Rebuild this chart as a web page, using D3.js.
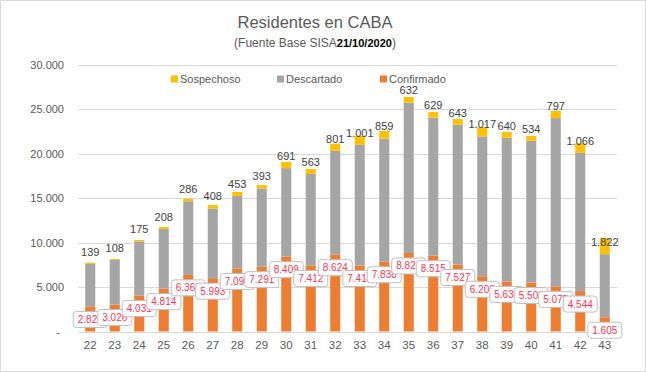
<!DOCTYPE html>
<html><head><meta charset="utf-8">
<script src="https://cdn.jsdelivr.net/npm/d3@7"></script>
<style>
html,body{margin:0;padding:0;background:#fff;}
svg{display:block;font-family:"Liberation Sans",Arial,sans-serif;}
</style></head>
<body><svg id="c" width="646" height="372"></svg>
<script>
const weeks = [22,23,24,25,26,27,28,29,30,31,32,33,34,35,36,37,38,39,40,41,42,43];
const confirmado = [2821,3026,4031,4814,6363,5993,7090,7291,8409,7412,8624,7414,7838,8821,8515,7527,6203,5636,5503,5075,4544,1605];
const descartado = [4770,5012,6075,6720,8272,7813,8131,8777,9945,10284,11676,13551,13831,16896,15519,15707,15724,16140,15929,18903,15536,7079];
const sospechoso = [139,108,175,208,286,408,453,393,691,563,801,1001,859,632,629,643,1017,640,534,797,1066,1822];
const seriesNames = ["Confirmado","Descartado","Sospechoso"];
const legendOrder = ["Sospechoso","Descartado","Confirmado"];
const yTicks = [0,5000,10000,15000,20000,25000,30000];
const titleText = "Residentes en CABA";
const subtitleText = "(Fuente Base SISA";
const subtitleDate = "21/10/2020";

const colors = {Confirmado:"#ED7D31", Descartado:"#A5A5A5", Sospechoso:"#FFC000"};
const loc = d3.formatLocale({decimal:",", thousands:".", grouping:[3], currency:["$",""]});
const fmt = loc.format(",.0f");

const svg = d3.select("#c");
svg.append("rect").attr("x",0.5).attr("y",0.5).attr("width",645).attr("height",371)
  .attr("fill","#fff").attr("stroke","#d9d9d9");

const rows = weeks.map((w,i)=>({week:w, Confirmado:confirmado[i], Descartado:descartado[i], Sospechoso:sospechoso[i]}));
const stacked = d3.stack().keys(seriesNames)(rows);

const x = d3.scaleBand().domain(weeks).range([78,617]).paddingInner(0.59).paddingOuter(0.295);
const y = d3.scaleLinear().domain([0,30000]).range([331.5,64.5]);

// grid
svg.append("g").selectAll("line").data(yTicks).join("line")
  .attr("x1",78).attr("x2",617).attr("y1",d=>Math.round(y(d))+0.5).attr("y2",d=>Math.round(y(d))+0.5)
  .attr("stroke","#d9d9d9").attr("stroke-width",1);

// y axis
const yAxis = d3.axisLeft(y).tickValues(yTicks).tickSize(0).tickPadding(0)
  .tickFormat(d=> d===0 ? "-" : fmt(d));
const ya = svg.append("g").attr("transform","translate(64,0)").call(yAxis);
ya.select(".domain").remove();
ya.selectAll("text").attr("fill","#595959").attr("font-size",11).attr("font-family","Liberation Sans, Arial, sans-serif");
ya.selectAll(".tick").filter(d=>d===0).select("text").attr("dx",-4);

// x axis
const xAxis = d3.axisBottom(x).tickSize(0).tickPadding(0);
const xa = svg.append("g").attr("transform","translate(0,341)").call(xAxis);
xa.select(".domain").remove();
xa.selectAll("text").attr("fill","#595959").attr("font-size",11.5).attr("font-family","Liberation Sans, Arial, sans-serif");

// bars
svg.append("g").selectAll("g").data(stacked).join("g")
  .attr("fill",d=>colors[d.key])
  .selectAll("rect").data(d=>d).join("rect")
  .attr("x",d=>x(d.data.week)).attr("width",x.bandwidth())
  .attr("y",d=>y(d[1])).attr("height",d=>y(d[0])-y(d[1]));

// sospechoso labels
const descLayer = stacked[1];
svg.append("g").selectAll("text").data(stacked[2]).join("text")
  .attr("x",d=>x(d.data.week)+x.bandwidth()/2)
  .attr("y",(d,i)=>y(descLayer[i][1])-12)
  .attr("dy","0.35em").attr("text-anchor","middle")
  .attr("font-size",11).attr("fill","#404040")
  .text(d=>fmt(d.data.Sospechoso));

// confirmado labels in boxes
const confLayer = stacked[0];
const lg = svg.append("g").selectAll("g").data(confLayer).join("g")
  .attr("transform",d=>`translate(${x(d.data.week)+x.bandwidth()/2},${y(d[1])+13})`);
lg.append("rect").attr("x",-17).attr("y",-8).attr("width",34).attr("height",16).attr("rx",3)
  .attr("fill","#fff").attr("stroke","#bfbfbf");
lg.append("text").attr("text-anchor","middle").attr("dy","0.35em")
  .attr("font-size",10).attr("fill","#FF3355")
  .text(d=>fmt(d.data.Confirmado));

// legend
const legX = {Sospechoso:171, Descartado:277, Confirmado:380};
const leg = svg.append("g").selectAll("g").data(legendOrder).join("g")
  .attr("transform",d=>`translate(${legX[d]},79)`);
leg.append("rect").attr("x",0).attr("y",-3.5).attr("width",7).attr("height",7).attr("fill",d=>colors[d]);
leg.append("text").attr("x",9).attr("dy","0.35em").attr("font-size",11).attr("fill","#595959").text(d=>d);

// title
svg.append("text").attr("x",315).attr("y",28).attr("text-anchor","middle")
  .attr("font-size",16.5).attr("fill","#595959").text(titleText);
const st = svg.append("text").attr("x",315).attr("y",47).attr("text-anchor","middle").attr("fill","#595959");
st.append("tspan").attr("font-size",12).text(subtitleText);
st.append("tspan").attr("font-size",11).attr("font-weight","bold").attr("fill","#000").text(subtitleDate);
st.append("tspan").attr("font-size",12).text(")");
</script></body></html>
